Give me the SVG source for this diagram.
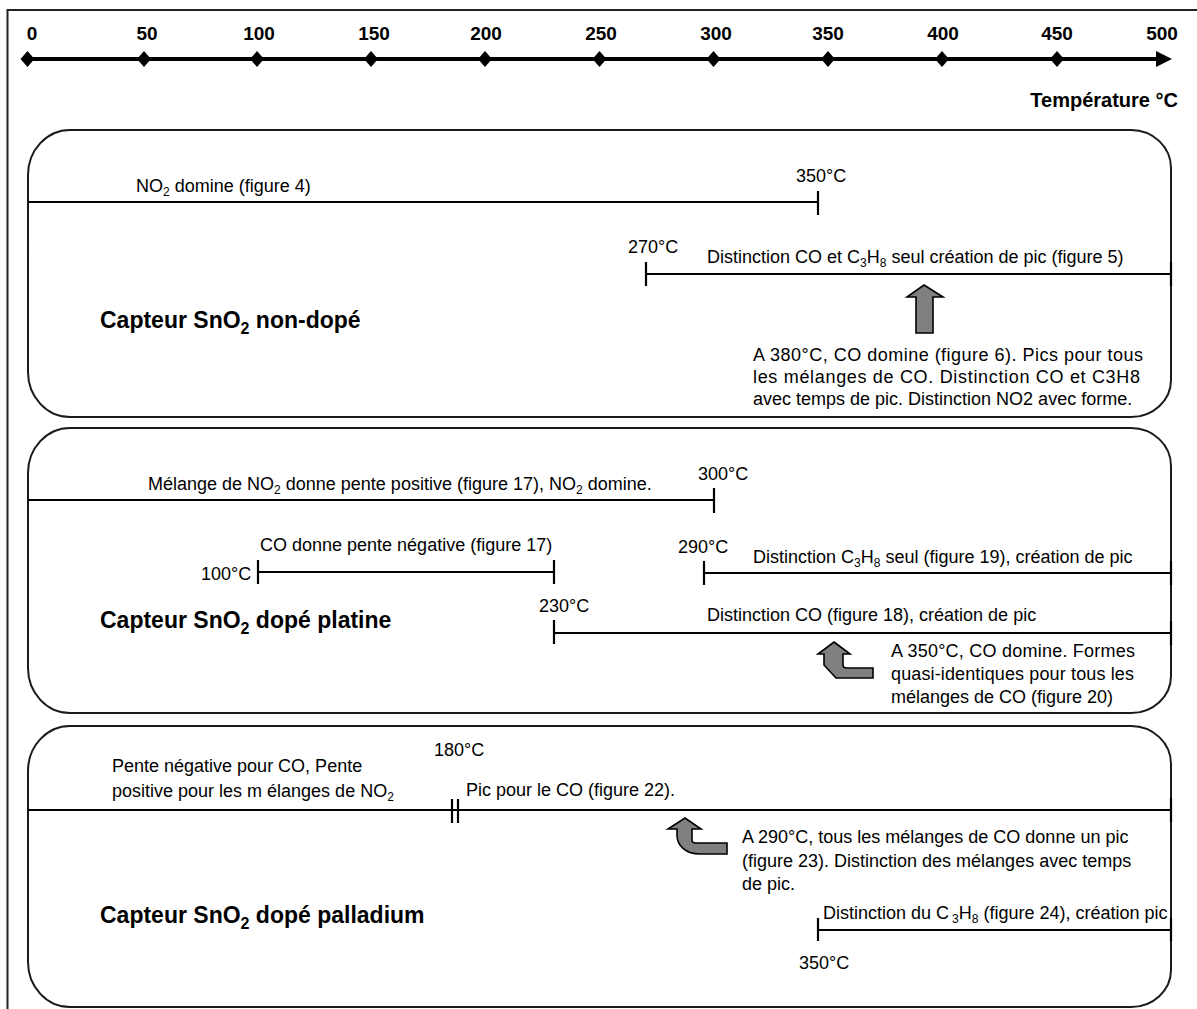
<svg xmlns="http://www.w3.org/2000/svg" width="1197" height="1009" viewBox="0 0 1197 1009">
<style>
text{font-family:"Liberation Sans",Arial,sans-serif;fill:#000}
.t{font-size:18px}
.sub{font-size:12px}
.tick{font-size:19px;font-weight:bold;text-anchor:middle}
.axlab{font-size:20px;font-weight:bold;text-anchor:end}
.title{font-size:23px;font-weight:bold}
.tsub{font-size:16px}
.panel{fill:none;stroke:#1a1a1a;stroke-width:2}
.ln{stroke:#000;stroke-width:2.2;fill:none}
.arrow{fill:#808080;stroke:#000;stroke-width:1.6;stroke-linejoin:miter}
</style>
<defs>
<polygon id="dia" points="0,-8 7,0 0,8 -7,0" fill="#000"/>
</defs>
<rect width="1197" height="1009" fill="#fff"/>
<g id="frame"><path d="M7.5,1009 V10 H1197" fill="none" stroke="#222" stroke-width="2"/></g>
<g id="axis">
<line x1="28" y1="59" x2="1160" y2="59" stroke="#000" stroke-width="4"/>
<polygon points="1156,51 1172,59 1156,67" fill="#000"/>
<use href="#dia" x="27.5" y="59"/><use href="#dia" x="144" y="59"/><use href="#dia" x="257" y="59"/><use href="#dia" x="371" y="59"/><use href="#dia" x="485" y="59"/><use href="#dia" x="599.5" y="59"/><use href="#dia" x="713.5" y="59"/><use href="#dia" x="828" y="59"/><use href="#dia" x="942" y="59"/><use href="#dia" x="1057" y="59"/>
<text class="tick" x="32" y="40">0</text><text class="tick" x="147" y="40">50</text><text class="tick" x="259" y="40">100</text><text class="tick" x="374" y="40">150</text><text class="tick" x="486" y="40">200</text><text class="tick" x="601" y="40">250</text><text class="tick" x="716" y="40">300</text><text class="tick" x="828" y="40">350</text><text class="tick" x="943" y="40">400</text><text class="tick" x="1057" y="40">450</text><text class="tick" x="1162" y="40">500</text>
<text class="axlab" x="1178" y="107">Température °C</text>
</g>
<g id="panel1">
<path class="panel" d="M70,130 H1131 A40,38 0 0 1 1171,168 V380 A40,37 0 0 1 1131,417 H70 A42,45 0 0 1 28,372 V175 A42,45 0 0 1 70,130 Z"/>
<text class="title" x="100" y="328">Capteur SnO<tspan class="tsub" dy="6">2</tspan><tspan dy="-6"> non-dopé</tspan></text>
</g>
<g id="panel2">
<path class="panel" d="M70,428 H1131 A40,38 0 0 1 1171,466 V676 A40,37 0 0 1 1131,713 H70 A42,45 0 0 1 28,668 V473 A42,45 0 0 1 70,428 Z"/>
<text class="title" x="100" y="628">Capteur SnO<tspan class="tsub" dy="6">2</tspan><tspan dy="-6"> dopé platine</tspan></text>
</g>
<g id="panel3">
<path class="panel" d="M70,726 H1131 A40,38 0 0 1 1171,764 V970 A40,37 0 0 1 1131,1007 H70 A42,45 0 0 1 28,962 V771 A42,45 0 0 1 70,726 Z"/>
<text class="title" x="100" y="923">Capteur SnO<tspan class="tsub" dy="6">2</tspan><tspan dy="-6"> dopé palladium</tspan></text>
</g>
<g id="connectors">
<!-- panel 1 -->
<line class="ln" x1="28" y1="202" x2="818" y2="202"/>
<line class="ln" x1="818" y1="191" x2="818" y2="215"/>
<line class="ln" x1="646" y1="274" x2="1171" y2="274"/>
<line class="ln" x1="646" y1="262" x2="646" y2="286"/>
<line class="ln" x1="1171" y1="262" x2="1171" y2="286" stroke-width="3"/>
<polygon class="arrow" points="924,285 943,297 933,297 933,333 916,333 916,297 907,297"/>
<!-- panel 2 -->
<line class="ln" x1="28" y1="500" x2="714" y2="500"/>
<line class="ln" x1="714" y1="488" x2="714" y2="513"/>
<line class="ln" x1="258" y1="572" x2="554" y2="572"/>
<line class="ln" x1="258" y1="560" x2="258" y2="584"/>
<line class="ln" x1="554" y1="560" x2="554" y2="584"/>
<line class="ln" x1="704" y1="573" x2="1171" y2="573"/>
<line class="ln" x1="704" y1="561" x2="704" y2="585"/>
<line class="ln" x1="1171" y1="561" x2="1171" y2="585" stroke-width="3"/>
<line class="ln" x1="554" y1="633" x2="1171" y2="633"/>
<line class="ln" x1="554" y1="620" x2="554" y2="644"/>
<line class="ln" x1="1171" y1="621" x2="1171" y2="645" stroke-width="3"/>
<path class="arrow" d="M834,642 L850,654 L843,654 L843,665 Q843,668 847,668 L873,668 L873,678 L836,678 L824,665 L824,654 L818,654 Z"/>
<!-- panel 3 -->
<line class="ln" x1="28" y1="810" x2="1171" y2="810"/>
<line class="ln" x1="452" y1="799" x2="452" y2="823"/>
<line class="ln" x1="458" y1="799" x2="458" y2="823"/>
<line class="ln" x1="1171" y1="798" x2="1171" y2="822" stroke-width="3"/>
<path class="arrow" d="M685,818 L701,829 L692,829 L692,840 Q692,843 696,843 L727,843 L727,854 L700,854 C686,854 677,846 677,835 L677,829 L668,829 Z"/>
<line class="ln" x1="818" y1="930" x2="1171" y2="930"/>
<line class="ln" x1="818" y1="918" x2="818" y2="941"/>
<line class="ln" x1="1171" y1="918" x2="1171" y2="941" stroke-width="3"/>
</g>
<g id="labels">
<text class="t" x="136" y="192">NO<tspan class="sub" dy="4">2</tspan><tspan dy="-4"> domine (figure 4)</tspan></text>
<text class="t" x="796" y="182">350°C</text>
<text class="t" x="628" y="253">270°C</text>
<text class="t" x="707" y="263">Distinction CO et C<tspan class="sub" dy="4">3</tspan><tspan dy="-4">H</tspan><tspan class="sub" dy="4">8</tspan><tspan dy="-4"> seul création de pic (figure 5)</tspan></text>
<text class="t" x="753" y="361" textLength="390" lengthAdjust="spacing">A 380°C, CO domine (figure 6). Pics pour tous</text>
<text class="t" x="753" y="383" textLength="387" lengthAdjust="spacing">les mélanges de CO. Distinction CO et C3H8</text>
<text class="t" x="753" y="405">avec temps de pic. Distinction NO2 avec forme.</text>

<text class="t" x="148" y="490">Mélange de NO<tspan class="sub" dy="4">2</tspan><tspan dy="-4"> donne pente positive (figure 17), NO</tspan><tspan class="sub" dy="4">2</tspan><tspan dy="-4"> domine.</tspan></text>
<text class="t" x="698" y="480">300°C</text>
<text class="t" x="260" y="551">CO donne pente négative (figure 17)</text>
<text class="t" x="201" y="580">100°C</text>
<text class="t" x="678" y="553">290°C</text>
<text class="t" x="753" y="563">Distinction C<tspan class="sub" dy="4">3</tspan><tspan dy="-4">H</tspan><tspan class="sub" dy="4">8</tspan><tspan dy="-4"> seul (figure 19), création de pic</tspan></text>
<text class="t" x="539" y="612">230°C</text>
<text class="t" x="707" y="621">Distinction CO (figure 18), création de pic</text>
<text class="t" x="891" y="657" textLength="244" lengthAdjust="spacing">A 350°C, CO domine. Formes</text>
<text class="t" x="891" y="680" textLength="243" lengthAdjust="spacing">quasi-identiques pour tous les</text>
<text class="t" x="891" y="703">mélanges de CO (figure 20)</text>

<text class="t" x="434" y="756">180°C</text>
<text class="t" x="112" y="772">Pente négative pour CO, Pente</text>
<text class="t" x="112" y="797">positive pour les m élanges de NO<tspan class="sub" dy="4">2</tspan></text>
<text class="t" x="466" y="796">Pic pour le CO (figure 22).</text>
<text class="t" x="742" y="843">A 290°C, tous les mélanges de CO donne un pic</text>
<text class="t" x="742" y="867">(figure 23). Distinction des mélanges avec  temps</text>
<text class="t" x="742" y="890">de pic.</text>
<text class="t" x="823" y="919">Distinction du C<tspan class="sub" dx="3" dy="4">3</tspan><tspan dy="-4">H</tspan><tspan class="sub" dy="4">8</tspan><tspan dy="-4"> (figure 24), création pic</tspan></text>
<text class="t" x="799" y="969">350°C</text>
</g>
</svg>
